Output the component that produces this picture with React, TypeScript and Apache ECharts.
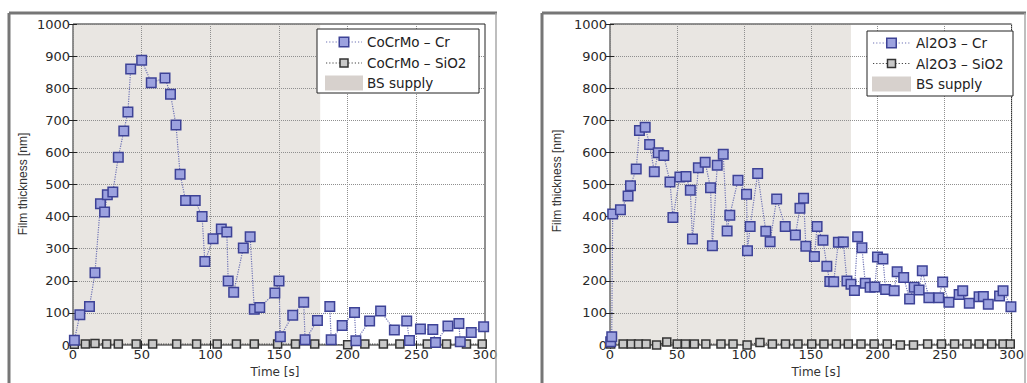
import React, { useEffect, useRef } from "react";
import * as echarts from "echarts";

// ---------- data ----------
const bsSupply = [0, 180];

const cocrCrTime = [1, 5, 12, 16, 20, 23, 25, 29, 33, 37, 40, 42, 50, 57, 67, 71, 75, 78, 82, 89, 94, 96, 102, 108, 112, 113, 117, 124, 129, 132, 136, 147, 150, 151, 160, 168, 169, 178, 187, 188, 196, 205, 206, 216, 224, 234, 243, 245, 253, 262, 264, 273, 281, 282, 290, 299];
const cocrCrValue = [15, 94, 120, 225, 440, 414, 468, 477, 585, 667, 726, 860, 887, 817, 832, 781, 685, 532, 450, 450, 400, 260, 331, 361, 352, 199, 164, 302, 337, 111, 117, 162, 199, 26, 93, 133, 16, 76, 120, 16, 61, 101, 13, 75, 106, 47, 75, 14, 50, 48, 8, 59, 67, 10, 39, 57];

const cocrSiTime = [1, 9, 16, 24.5, 33, 46, 58, 75.5, 90, 105, 119, 132, 149, 162, 176, 200, 212.5, 226, 238, 258, 272, 286.5, 298];
const cocrSiValue = [2, 3, 5, 3, 3, 3, 3, 3, 3, 3, 3, 3, 3, 3, 3, 1, 3, 3, 3, 3, 3, 3, 3];

const alCrTime = [0.5, 1.3, 2, 7.8, 13.5, 15.3, 19.6, 22, 26.3, 29.6, 33.1, 36, 40.2, 44.8, 47, 52.2, 56.8, 60, 61.6, 66, 71.1, 75.1, 76.5, 80.1, 84.6, 87.5, 89.5, 95.6, 102, 102.7, 104.7, 110.3, 116.4, 119.6, 124.5, 130.9, 138.5, 141.9, 144.6, 146.3, 152.7, 154.7, 159.1, 162, 164.2, 167.1, 170.6, 174.3, 177, 180, 182.6, 185, 188.2, 190.7, 194.3, 197.8, 199.8, 203.9, 205.9, 212.3, 214.5, 219.4, 223.8, 227.2, 230.9, 233.3, 238.2, 245.6, 248.5, 253.2, 260.8, 263.5, 268.4, 275.7, 278.9, 282.6, 291, 293.6, 299.5];
const alCrValue = [10, 26, 408, 421, 464, 496, 548, 668, 678, 625, 540, 599, 590, 508, 397, 523, 525, 482, 330, 552, 569, 490, 309, 560, 594, 355, 404, 513, 470, 294, 369, 534, 354, 322, 455, 369, 343, 426, 457, 308, 276, 369, 326, 245, 198, 197, 320, 321, 199, 189, 170, 337, 303, 192, 180, 181, 274, 268, 173, 169, 228, 210, 143, 180, 171, 231, 147, 147, 196, 133, 157, 169, 130, 150, 151, 127, 153, 169, 119];

const alSiTime = [0.5, 9.8, 15.9, 21.3, 27, 34.8, 42.4, 50.2, 56.4, 63, 71.6, 82.9, 91.9, 102.4, 112, 121.3, 131.1, 140.4, 150.7, 159.8, 169.1, 178, 187.5, 197.3, 207.1, 216.9, 226.7, 237.3, 247.6, 257.4, 266.7, 275.7, 285.1, 293.6, 299];
const alSiValue = [3, 3, 3, 3, 3, 0, 9, 3, 3, 3, 3, 3, 3, 0, 8, 3, 3, 3, 3, 3, 3, 3, 3, 3, 3, 0, 0, 3, 3, 3, 3, 3, 3, 3, 3];

const xTicks = { min: 0, max: 300, interval: 50 };
const yTicks = { min: 0, max: 1000, interval: 100 };

const legendLeft = ["CoCrMo – Cr", "CoCrMo – SiO2", "BS supply"];
const legendRight = ["Al2O3 – Cr", "Al2O3 – SiO2", "BS supply"];
const xTitle = "Time [s]";
const yTitle = "Film thickness [nm]";

// ---------- styles ----------
const shadeColor = "#e9e6e2";
const patchColor = "#d7d1cd";
const crFill = "#9ca2df";
const crStroke = "#3d4296";
const crLine = "#6f73b5";
const siFill = "#c9c9c9";
const siStroke = "#333333";
const siLine = "#444444";
const frameColor = "#767676";
const TICK_FONT = "DejaVu Sans";

const zip = (a: number[], b: number[]) => a.map((t, i) => [t, b[i]]);

function App() {
  const ref = useRef<HTMLDivElement>(null);

  useEffect(() => {
    if (!ref.current) return;
    const chart = echarts.init(ref.current, null, { renderer: "svg" });

    const grids = [
      { left: 73, top: 24, width: 412, height: 321 },
      { left: 610, top: 24, width: 408, height: 321 },
    ];

    const labelStyle = {
      margin: 3,
      fontFamily: TICK_FONT,
      fontSize: 13,
      color: "#2a2a2a",
      formatter: (v: number) => String(v),
    };

    const mkX = (gi: number, pos: "bottom" | "top") => ({
      type: "value",
      gridIndex: gi,
      position: pos,
      ...xTicks,
      axisLine: { show: false },
      axisTick: { show: true, inside: true, length: 4, lineStyle: { color: "#222" } },
      axisLabel: { show: pos === "bottom", ...labelStyle },
      splitLine: {
        show: pos === "bottom",
        lineStyle: { color: "#8f8f8f", type: "dotted", width: 1 },
      },
    });
    const mkY = (gi: number, pos: "left" | "right") => ({
      type: "value",
      gridIndex: gi,
      position: pos,
      ...yTicks,
      axisLine: { show: false },
      axisTick: { show: true, inside: true, length: 4, lineStyle: { color: "#222" } },
      axisLabel: { show: pos === "left", ...labelStyle },
      splitLine: {
        show: pos === "left",
        lineStyle: { color: "#8f8f8f", type: "dotted", width: 1 },
      },
    });

    const shade = (xi: number, yi: number) => ({
      type: "custom",
      name: "BS supply",
      xAxisIndex: xi,
      yAxisIndex: yi,
      z: -1,
      silent: true,
      data: [bsSupply],
      renderItem: (params: any, api: any) => {
        const p0 = api.coord([api.value(0), yTicks.max]);
        const p1 = api.coord([api.value(1), yTicks.min]);
        return {
          type: "rect",
          shape: { x: p0[0], y: p0[1], width: p1[0] - p0[0], height: p1[1] - p0[1] },
          style: { fill: shadeColor },
        };
      },
    });

    const crSeries = (name: string, xi: number, yi: number, data: number[][]) => ({
      type: "line",
      name,
      xAxisIndex: xi,
      yAxisIndex: yi,
      data,
      z: 4,
      symbol: "rect",
      symbolSize: 9.5,
      showSymbol: true,
      showAllSymbol: true,
      itemStyle: { color: crFill, borderColor: crStroke, borderWidth: 1.5 },
      lineStyle: { color: crLine, type: "dotted", width: 1.2 },
    });
    const siSeries = (name: string, xi: number, yi: number, data: number[][]) => ({
      type: "line",
      name,
      xAxisIndex: xi,
      yAxisIndex: yi,
      data,
      z: 3,
      symbol: "rect",
      symbolSize: 8,
      showSymbol: true,
      showAllSymbol: true,
      itemStyle: { color: siFill, borderColor: siStroke, borderWidth: 1.5 },
      lineStyle: { color: siLine, type: "dotted", width: 1.2 },
    });

    const legendText = (x: number, y: number, text: string) => ({
      type: "text",
      x,
      y,
      style: {
        text,
        fontFamily: TICK_FONT,
        fontSize: 13.5,
        fill: "#222",
        verticalAlign: "middle",
        align: "left",
      },
      z: 12,
    });

    const legendBox = (
      x: number,
      y: number,
      w: number,
      h: number,
      lineX1: number,
      lineX2: number,
      textX: number,
      rows: number[],
      labels: string[]
    ) => {
      const mx = (lineX1 + lineX2) / 2;
      return [
        {
          type: "rect",
          shape: { x, y, width: w, height: h },
          style: { fill: "#ffffff", stroke: "#222", lineWidth: 1 },
          z: 10,
        },
        {
          type: "line",
          shape: { x1: lineX1, y1: rows[0], x2: lineX2, y2: rows[0] },
          style: { stroke: crLine, lineWidth: 1.2, lineDash: [1.2, 2] },
          z: 11,
        },
        {
          type: "rect",
          shape: { x: mx - 4.75, y: rows[0] - 4.75, width: 9.5, height: 9.5 },
          style: { fill: crFill, stroke: crStroke, lineWidth: 1.5 },
          z: 12,
        },
        legendText(textX, rows[0], labels[0]),
        {
          type: "line",
          shape: { x1: lineX1, y1: rows[1], x2: lineX2, y2: rows[1] },
          style: { stroke: siLine, lineWidth: 1.2, lineDash: [1.2, 2] },
          z: 11,
        },
        {
          type: "rect",
          shape: { x: mx - 4, y: rows[1] - 4, width: 8, height: 8 },
          style: { fill: siFill, stroke: siStroke, lineWidth: 1.5 },
          z: 12,
        },
        legendText(textX, rows[1], labels[1]),
        {
          type: "rect",
          shape: { x: lineX1 - 1, y: rows[2] - 7.5, width: lineX2 - lineX1 + 2, height: 15 },
          style: { fill: patchColor },
          z: 11,
        },
        legendText(textX, rows[2], labels[2]),
      ];
    };

    const frame = (x1: number, x2: number) => [
      {
        type: "line",
        shape: { x1: x1, y1: 13, x2: x2, y2: 13 },
        style: { stroke: frameColor, lineWidth: 3 },
        z: 5,
      },
      {
        type: "line",
        shape: { x1: x1, y1: 13, x2: x1, y2: 400 },
        style: { stroke: frameColor, lineWidth: 3 },
        z: 5,
      },
      {
        type: "line",
        shape: { x1: x2 - 1, y1: 13, x2: x2 - 1, y2: 400 },
        style: { stroke: "#a8a8a8", lineWidth: 1.5 },
        z: 5,
      },
    ];

    const axisTitles = (yx: number, yy: number, tx: number, ty: number) => [
      {
        type: "text",
        x: yx,
        y: yy,
        rotation: Math.PI / 2,
        style: {
          text: yTitle,
          fontFamily: "Liberation Sans",
          fontSize: 12,
          fill: "#333",
          align: "center",
          verticalAlign: "middle",
        },
      },
      {
        type: "text",
        x: tx,
        y: ty,
        style: {
          text: xTitle,
          fontFamily: TICK_FONT,
          fontSize: 12,
          fill: "#333",
          align: "center",
          verticalAlign: "middle",
        },
      },
    ];

    chart.setOption({
      animation: false,
      backgroundColor: "#ffffff",
      grid: grids.map((g) => ({
        ...g,
        show: true,
        borderColor: "#222",
        borderWidth: 1,
        backgroundColor: "transparent",
      })),
      xAxis: [mkX(0, "bottom"), mkX(0, "top"), mkX(1, "bottom"), mkX(1, "top")],
      yAxis: [mkY(0, "left"), mkY(0, "right"), mkY(1, "left"), mkY(1, "right")],
      series: [
        shade(0, 0),
        siSeries(legendLeft[1], 0, 0, zip(cocrSiTime, cocrSiValue)),
        crSeries(legendLeft[0], 0, 0, zip(cocrCrTime, cocrCrValue)),
        shade(2, 2),
        siSeries(legendRight[1], 2, 2, zip(alSiTime, alSiValue)),
        crSeries(legendRight[0], 2, 2, zip(alCrTime, alCrValue)),
      ],
      graphic: [
        ...frame(9, 497),
        ...frame(542, 1026),
        ...axisTitles(23, 184, 275, 372),
        ...axisTitles(557, 181, 816, 372),
        ...legendBox(317, 29, 162, 64, 326, 362, 367, [42, 63, 83], legendLeft),
        ...legendBox(867, 31, 146, 65, 873, 910, 916, [43, 63.5, 84], legendRight),
      ],
    });

    return () => chart.dispose();
  }, []);

  return (
    <div
      ref={ref}
      style={{ position: "absolute", left: 0, top: 0, width: 1027, height: 383, background: "#fff" }}
    />
  );
}

export default App;
